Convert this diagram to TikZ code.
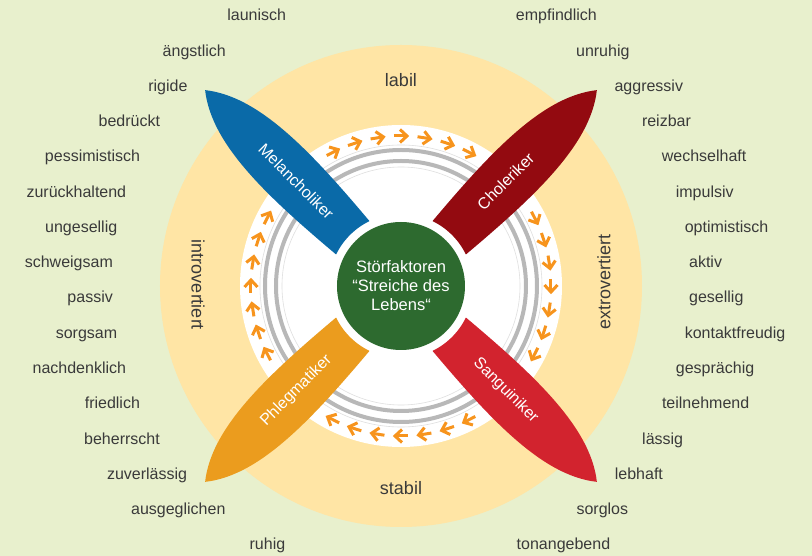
\documentclass[tikz,border=0pt]{standalone}
\usepackage{fontspec}
\setmainfont{Liberation Sans}
\definecolor{bg}{HTML}{E8F0CD}
\definecolor{yel}{HTML}{FFE5A5}
\definecolor{mel}{HTML}{0A6AA8}
\definecolor{cho}{HTML}{930A10}
\definecolor{san}{HTML}{D2232E}
\definecolor{phl}{HTML}{EB9C1E}
\definecolor{grn}{HTML}{2D6A2F}
\definecolor{arrorange}{HTML}{F7941D}
\definecolor{ring}{HTML}{B8B8B8}
\definecolor{txt}{HTML}{3A3A3A}
\begin{document}
\begin{tikzpicture}[x=1pt,y=1pt,
  word/.style={text=txt, font=\fontsize{16}{18}\selectfont, inner sep=0pt},
  axislabel/.style={text=txt, font=\fontsize{18}{20}\selectfont, inner sep=0pt},
  petallabel/.style={text=white, font=\fontsize{16}{18}\selectfont, inner sep=0pt},
  arr/.style={draw=arrorange, line width=3pt, line cap=butt, line join=miter},
  ringline/.style={draw=ring, line width=4pt},
  faintline/.style={draw=gray!25, line width=0.6pt},
  petal/.style={fill=#1}]
\useasboundingbox (-401,-270) rectangle (411,286);
\fill[bg] (-401,-270) rectangle (411,286);
\fill[yel] (0,0) circle (241);
\fill[white] (0,0) circle (161);
\draw[faintline] (0,0) circle (141);
\draw[ringline] (0,0) circle (136);
\draw[ringline] (0,0) circle (125);
\draw[faintline] (0,0) circle (119);
% arrows (clockwise)
\foreach \c in {90,0,-90,180}{
  \foreach \k in {-3,...,3}{
    \pgfmathsetmacro\ang{\c+9*\k}
    \begin{scope}[shift={(\ang:150)}, rotate=\ang-90]
      \draw[arr] (-7,0) -- (5,0);
      \draw[arr] (-1,6.5) -- (6,0) -- (-1,-6.5);
    \end{scope}
  }
}
% petals
\foreach \a/\col in {135/mel,45/cho,-45/san,-135/phl}{
  \fill[petal=\col, rotate=\a] (277,0) .. controls (232,36) and (150,31) .. (50,22)
     -- (50,-22) .. controls (150,-31) and (232,-36) .. (277,0) -- cycle;
}
\node[petallabel, rotate=-45] (melab) at (135:148) {Melancholiker};
\node[petallabel, rotate=45] (cholab) at (45:148) {Choleriker};
\node[petallabel, rotate=-45] (sanlab) at (-45:148) {Sanguiniker};
\node[petallabel, rotate=45] (phllab) at (-135:148) {Phlegmatiker};
% centre
\fill[white] (0,0) circle (72);
\node[circle, fill=grn, minimum size=128pt, inner sep=0pt, align=center, text=white,
  font=\fontsize{16.5}{19}\selectfont] (centre) at (0,0) {Störfaktoren\\“Streiche des\\Lebens“};
% axis labels
\node[axislabel, anchor=base] (labil) at (0,199.3) {labil};
\node[axislabel, anchor=base] (stabil) at (0,-209) {stabil};
\node[axislabel, rotate=-90] (intro) at (-203,1) {introvertiert};
\node[axislabel, rotate=90] (extro) at (203,4) {extrovertiert};
% word lists
\foreach \w [count=\i from 0] in {launisch,ängstlich,rigide,bedrückt,pessimistisch,zurückhaltend,ungesellig,schweigsam,passiv,sorgsam,nachdenklich,friedlich,beherrscht,zuverlässig,ausgeglichen,ruhig}{
  \pgfmathsetmacro\dy{(35.27*\i-264.7)/100}
  \pgfmathsetmacro\xx{100*sqrt(2.885*2.885-\dy*\dy)}
  \pgfmathsetmacro\yy{265.2-35.27*\i}
  \node[word, anchor=base east] (l\i) at (-\xx,\yy) {\w};
}
\foreach \w [count=\i from 0] in {empfindlich,unruhig,aggressiv,reizbar,wechselhaft,impulsiv,optimistisch,aktiv,gesellig,kontaktfreudig,gesprächig,teilnehmend,lässig,lebhaft,sorglos,tonangebend}{
  \pgfmathsetmacro\dy{(35.27*\i-264.7)/100}
  \pgfmathsetmacro\xx{100*sqrt(2.885*2.885-\dy*\dy)}
  \pgfmathsetmacro\yy{265.2-35.27*\i}
  \node[word, anchor=base west] (r\i) at (\xx,\yy) {\w};
}
\end{tikzpicture}
\end{document}
